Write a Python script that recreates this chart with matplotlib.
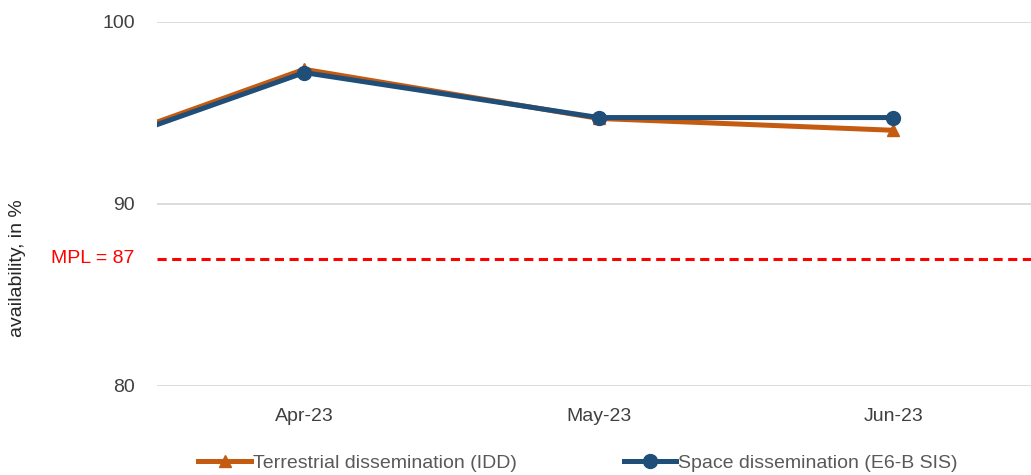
import numpy as np
import matplotlib
matplotlib.use('Agg')
import matplotlib.pyplot as plt

plt.rcParams['font.family'] = ['Liberation Sans', 'DejaVu Sans']

# monthly availability values (Mar-23 only partly visible at the left edge)
months = ['Mar-23', 'Apr-23', 'May-23', 'Jun-23']
terrestrial = [91.6, 97.4, 94.7, 94.05]
space = [91.5, 97.22, 94.75, 94.75]
mpl_value = 87
y_ticks = [80, 90, 100]

orange = '#C55A11'
blue = '#1F4E79'

fig = plt.figure(figsize=(10.31, 4.75), dpi=100)
ax = fig.add_axes([157 / 1031, 89 / 475, 883.5 / 1031, 364 / 475])

x = np.arange(len(months))
ax.plot(x, terrestrial, color=orange, lw=3.6, marker='^', markersize=9,
        label='Terrestrial dissemination (IDD)', zorder=3)
ax.plot(x, space, color=blue, lw=3.6, marker='o', markersize=10,
        label='Space dissemination (E6-B SIS)', zorder=4)

# minimum performance level
ax.axhline(mpl_value, color='#FF0000', lw=2.2, ls=(0, (3, 1.8)), zorder=2)
ax.annotate('MPL = ' + str(mpl_value), xy=(0, mpl_value),
            xycoords=('axes fraction', 'data'), xytext=(-16, 0),
            textcoords='offset points', ha='right', va='center',
            color='#FF0000', fontsize=14)

ax.set_yticks(y_ticks)
ax.set_xticks(x)
ax.set_xticklabels(months)
ax.set_xlim(0.5, 3.5)
ax.set_ylim(80, 100)
ax.grid(axis='y', color='#D9D9D9', lw=1.3)
ax.set_axisbelow(True)
for s in ax.spines.values():
    s.set_visible(False)
ax.tick_params(axis='both', length=0, labelsize=14, labelcolor='#404040')
ax.tick_params(axis='y', pad=16)
ax.tick_params(axis='x', pad=16)

fig.text(18 / 1031, 1 - 268 / 475, 'availability, in %', rotation=90,
         ha='center', va='center', fontsize=14, color='#262626')

leg = fig.legend(loc='center', bbox_to_anchor=(578 / 1031, 12 / 475), ncol=2,
                 frameon=False, fontsize=14, handlelength=2.7,
                 handletextpad=0.1, columnspacing=5.5, borderpad=0)
for t in leg.get_texts():
    t.set_color('#595959')

fig.savefig('out.png', dpi=100)
